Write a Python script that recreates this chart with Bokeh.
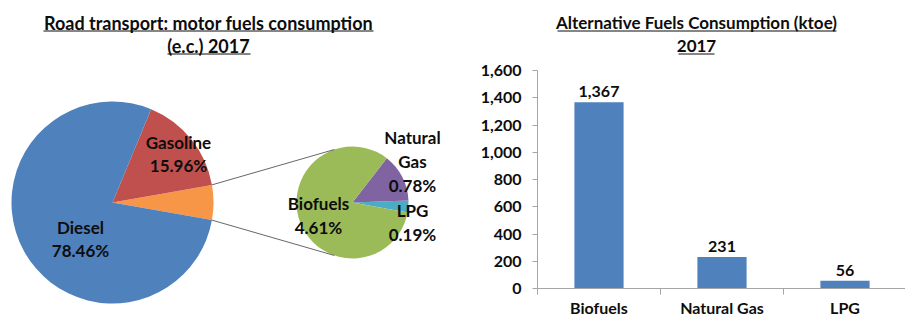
import numpy as np
from bokeh.plotting import figure
from bokeh.layouts import row
from bokeh.models import Range1d, FixedTicker, NumeralTickFormatter
from bokeh.core.properties import value
from bokeh.embed import file_html
from bokeh.resources import INLINE

# ---------------- data ----------------
main_labels = ["Diesel", "Gasoline"]
main_pct = [78.46, 15.96]
sub_labels = ["Biofuels", "Natural\nGas", "LPG"]
sub_pct = [4.61, 0.78, 0.19]
bar_cats = ["Biofuels", "Natural Gas", "LPG"]
bar_vals = [1367, 231, 56]
y_ticks = [0, 200, 400, 600, 800, 1000, 1200, 1400, 1600]
title_left = ["Road transport: motor fuels consumption", "(e.c.) 2017"]
title_right = ["Alternative Fuels Consumption (ktoe)", "2017"]

# ---------------- styles ----------------
FONT = value("Lato")
C_MAIN = ["#4F81BD", "#C0504D"]
C_OTHER = "#F79646"
C_SUB = ["#9BBB59", "#8064A2", "#4BACC6"]
BAR_C = "#4F81BD"
AX_C = "#A6A6A6"
TXT = "#0d0d0d"
W, H = 905, 319

def Y(yref):
    return H - yref

# ---------------- left: pie of pie ----------------
p1 = figure(width=460, height=H, x_range=Range1d(0, 460), y_range=Range1d(0, H),
            output_backend="svg", toolbar_location=None, min_border=0, frame_align=False)
p1.axis.visible = False
p1.grid.visible = False
p1.outline_line_color = None

cx, cy, r = 112, Y(202), 101
others = sum(sub_pct)
a_oth = others / 100 * 2 * np.pi
g0 = a_oth / 2
g1 = g0 + main_pct[1] / 100 * 2 * np.pi
p1.wedge(x=cx, y=cy, radius=r, start_angle=-a_oth / 2, end_angle=a_oth / 2,
         color=C_OTHER, line_color=None)
p1.wedge(x=cx, y=cy, radius=r, start_angle=g0, end_angle=g1, color=C_MAIN[1], line_color=None)
p1.wedge(x=cx, y=cy, radius=r, start_angle=g1, end_angle=2 * np.pi - a_oth / 2,
         color=C_MAIN[0], line_color=None)

sx, sy, sr = 352, Y(202), 56
fr = [v / others * 2 * np.pi for v in sub_pct]
s0 = np.deg2rad(2) - fr[2]
angs = [s0, s0 + fr[2], s0 + fr[2] + fr[1], s0 + 2 * np.pi]
p1.wedge(x=sx, y=sy, radius=sr, start_angle=angs[0], end_angle=angs[1], color=C_SUB[2], line_color=None)
p1.wedge(x=sx, y=sy, radius=sr, start_angle=angs[1], end_angle=angs[2], color=C_SUB[1], line_color=None)
p1.wedge(x=sx, y=sy, radius=sr, start_angle=angs[2], end_angle=angs[3], color=C_SUB[0], line_color=None)

# connector lines
t = np.deg2rad(109)
x0s = [cx + r * np.cos(a_oth / 2), cx + r * np.cos(-a_oth / 2)]
y0s = [cy + r * np.sin(a_oth / 2), cy + r * np.sin(-a_oth / 2)]
x1s = [sx + sr * np.cos(t), sx + sr * np.cos(-t)]
y1s = [sy + sr * np.sin(t), sy + sr * np.sin(-t)]
p1.segment(x0=x0s, y0=y0s, x1=x1s, y1=y1s, line_color="#404040", line_width=0.8)

lab_kw = dict(text_font=FONT, text_font_style="bold", text_font_size="17px",
              text_align="center", text_baseline="middle", text_color=TXT)
p1.text(x=[178, 178], y=[Y(142), Y(165)], text=["Gasoline", f"{main_pct[1]:.2f}%"], **lab_kw)
p1.text(x=[80, 80], y=[Y(227), Y(250)], text=["Diesel", f"{main_pct[0]:.2f}%"], **lab_kw)
p1.text(x=[318, 318], y=[Y(203), Y(227)], text=["Biofuels", f"{sub_pct[0]:.2f}%"], **lab_kw)
ng = sub_labels[1].split("\n")
p1.text(x=[412, 412, 412], y=[Y(137), Y(161), Y(185)], text=ng + [f"{sub_pct[1]:.2f}%"], **lab_kw)
p1.text(x=[412, 412], y=[Y(210), Y(234)], text=["LPG", f"{sub_pct[2]:.2f}%"], **lab_kw)

tkw = dict(text_font=FONT, text_font_style="bold",
           text_align="center", text_baseline="middle", text_color=TXT)
p1.text(x=[208, 208], y=[Y(22), Y(45)], text=title_left, text_font_size="18px", **tkw)
p1.segment(x0=[43, 167], y0=[Y(30.5), Y(53.5)], x1=[373, 250], y1=[Y(30.5), Y(53.5)],
           line_color=TXT, line_width=1)

# ---------------- right: bar chart ----------------
ncat = len(bar_cats)
fx0, fy1 = 537, 288          # frame left edge / bottom edge (page pixels)
cat_w = 123
p2 = figure(width=W - 460, height=H, x_range=Range1d(0, (W - fx0) / cat_w),
            y_range=Range1d(0, y_ticks[-1] * fy1 / 218),
            output_backend="svg", toolbar_location=None, frame_align=False,
            min_border_left=fx0 - 460, min_border_right=0, min_border_top=0,
            min_border_bottom=H - fy1)
p2.extra_x_ranges = {"px": Range1d(fx0, W)}
p2.extra_y_ranges = {"px": Range1d(Y(fy1), Y(0))}
p2.grid.visible = False
p2.outline_line_color = None

centers = [i + 0.5 for i in range(ncat)]
p2.vbar(x=centers, top=bar_vals, width=0.4, color=BAR_C, line_color=None)
p2.text(x=centers, y=bar_vals, text=[f"{v:,}" for v in bar_vals], y_offset=-5,
        text_font=FONT, text_font_style="bold", text_font_size="16px",
        text_align="center", text_baseline="bottom", text_color=TXT)

yax = p2.yaxis[0]
yax.ticker = FixedTicker(ticks=y_ticks)
yax.bounds = (y_ticks[0], y_ticks[-1])
yax.formatter = NumeralTickFormatter(format="0,0")
yax.major_tick_out = 5
yax.major_tick_in = 0
yax.minor_tick_out = 0
yax.minor_tick_in = 0
yax.axis_line_color = AX_C
yax.major_tick_line_color = AX_C
yax.major_label_text_font = "Lato"
yax.major_label_text_font_style = "bold"
yax.major_label_text_font_size = "16px"
yax.major_label_text_color = TXT
yax.major_label_standoff = 11

xax = p2.xaxis[0]
xax.ticker = FixedTicker(ticks=centers, minor_ticks=list(range(ncat + 1)))
xax.major_label_overrides = {c: lab for c, lab in zip(centers, bar_cats)}
xax.major_tick_out = 0
xax.major_tick_in = 0
xax.minor_tick_out = 6
xax.minor_tick_in = 0
xax.axis_line_color = AX_C
xax.minor_tick_line_color = AX_C
xax.major_label_text_font = "Lato"
xax.major_label_text_font_style = "bold"
xax.major_label_text_font_size = "16px"
xax.major_label_text_color = TXT
xax.major_label_standoff = 3

p2.text(x=[696, 696], y=[Y(22), Y(45)], text=title_right, x_range_name="px", y_range_name="px",
        text_font_size="17px", **tkw)
p2.segment(x0=[557, 678], y0=[Y(30.5), Y(53.5)], x1=[836, 714], y1=[Y(30.5), Y(53.5)],
           x_range_name="px", y_range_name="px", line_color=TXT, line_width=1)

layout = row(p1, p2)
open("out.html", "w").write(file_html(layout, INLINE))
